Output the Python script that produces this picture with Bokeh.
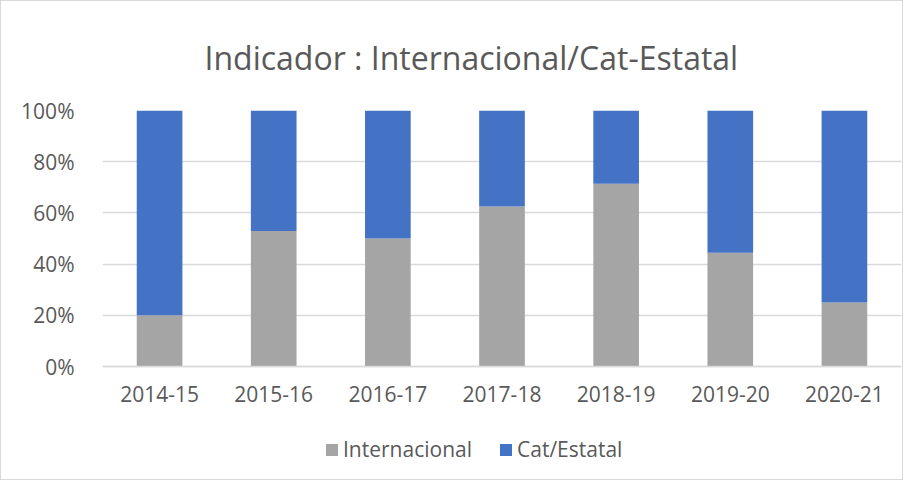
from bokeh.plotting import figure
from bokeh.models import NumeralTickFormatter, Legend, LegendItem, Range1d
from bokeh.embed import file_html
from bokeh.resources import INLINE

years = ["2014-15", "2015-16", "2016-17", "2017-18", "2018-19", "2019-20", "2020-21"]
internacional = [0.20, 0.529, 0.50, 0.625, 0.714, 0.444, 0.25]
cat_estatal = [1 - v for v in internacional]
series = ["Internacional", "Cat/Estatal"]
colors = ["#A5A5A5", "#4472C4"]

FONT = "Open Sans"
TXT = "#595959"

# extra room below 0% inside the frame hosts the axis labels and the legend
p = figure(x_range=years, frame_width=799, frame_height=369, output_backend="svg",
           toolbar_location=None, min_border_left=101, min_border_right=1,
           min_border_top=108, min_border_bottom=0,
           title="Indicador : Internacional/Cat-Estatal")
p.y_range = Range1d(-113 / 256, 1)
src = dict(years=years, Internacional=internacional)
src["Cat/Estatal"] = cat_estatal
rs = p.vbar_stack(series, x="years", width=0.4, color=colors, source=src, line_color=None)

p.title.align = "left"
p.title.offset = 102
p.title.standoff = 64
p.title.text_font = FONT
p.title.text_font_size = "32px"
p.title.text_font_style = "normal"
p.title.text_color = TXT

p.outline_line_color = None
p.styles = {"border": "1px solid #D9D9D9"}
p.xgrid.grid_line_color = None
p.ygrid.grid_line_color = "#D9D9D9"
p.ygrid.grid_line_width = 1.5
p.yaxis.axis_line_color = None
p.yaxis.major_tick_line_color = None
p.yaxis.minor_tick_line_color = None
p.yaxis.ticker = [0, 0.2, 0.4, 0.6, 0.8, 1.0]
p.yaxis.formatter = NumeralTickFormatter(format="0%")
p.yaxis.major_label_standoff = 22
p.xaxis.fixed_location = 0
p.xaxis.axis_line_color = "#D9D9D9"
p.xaxis.axis_line_width = 1.5
p.xaxis.major_tick_line_color = None
p.xaxis.major_label_standoff = 13
for ax in (p.xaxis, p.yaxis):
    ax.major_label_text_font = FONT
    ax.major_label_text_font_size = "21px"
    ax.major_label_text_color = TXT

legend = Legend(items=[LegendItem(label=s, renderers=[r]) for s, r in zip(series, rs)],
                orientation="horizontal", location=(222, 16), label_text_font=FONT,
                label_text_font_size="21px", label_text_color=TXT, border_line_color=None,
                background_fill_alpha=0, padding=0, margin=0, glyph_width=15, glyph_height=15,
                spacing=26, label_standoff=4)
p.add_layout(legend, "center")

open("out.html", "w").write(file_html(p, INLINE))
